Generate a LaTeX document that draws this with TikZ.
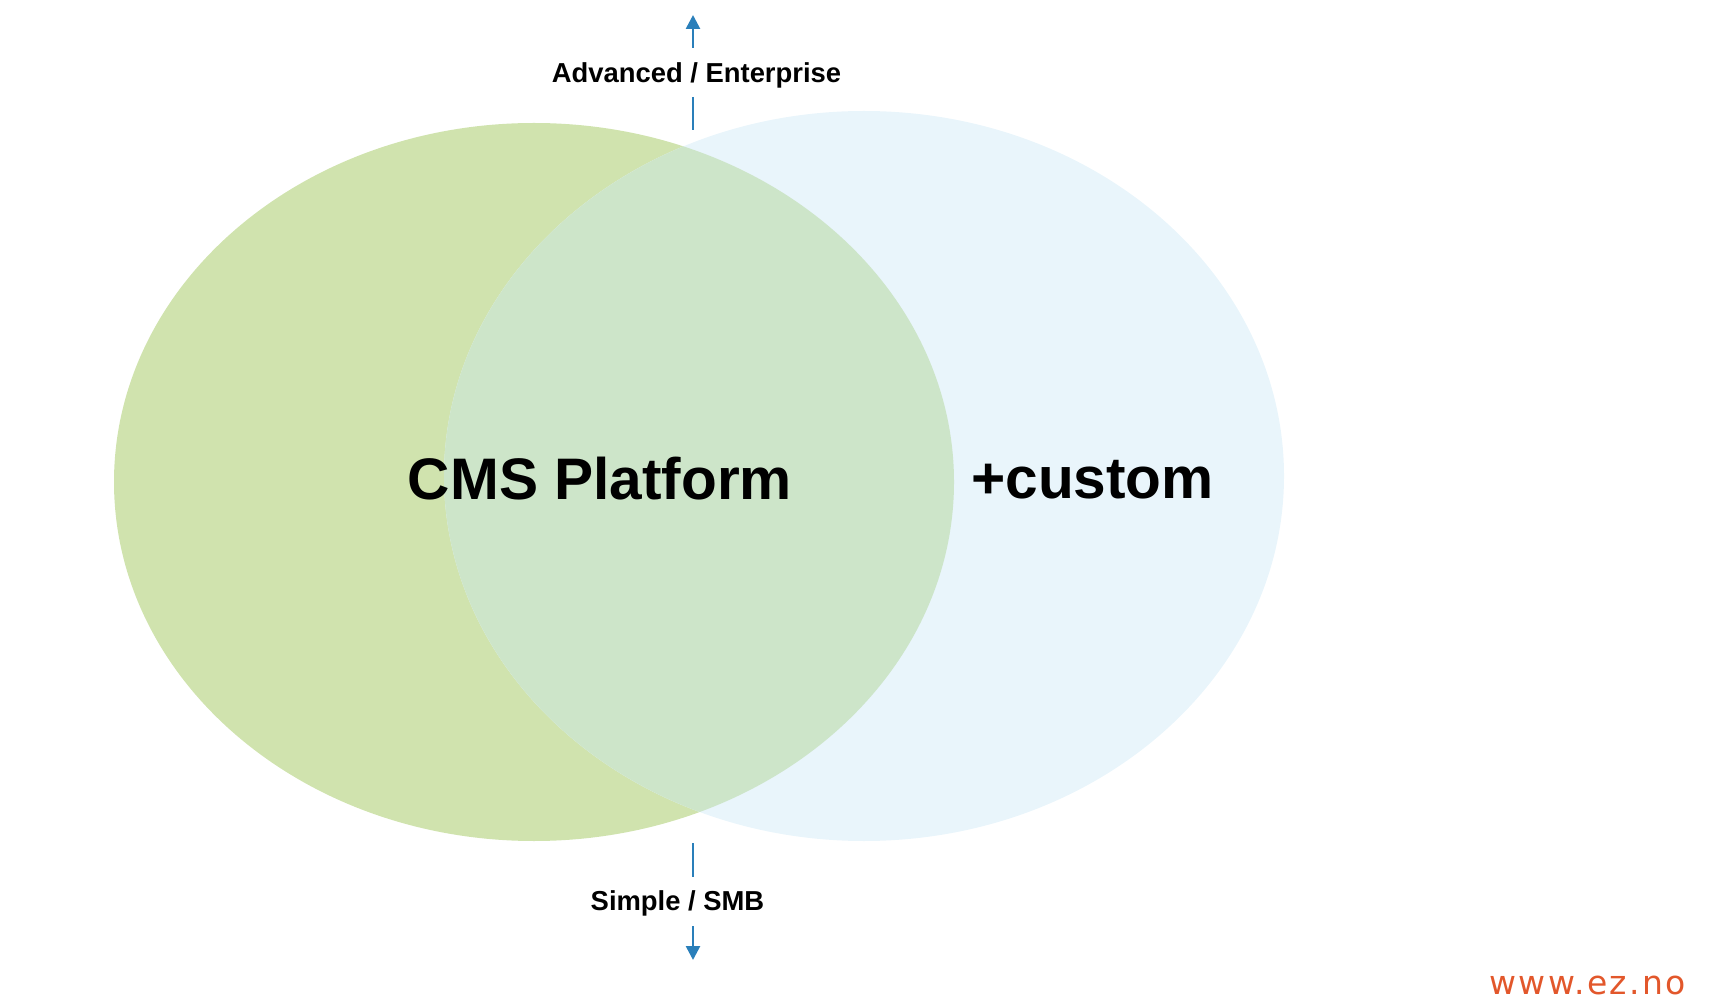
\documentclass[tikz,border=0pt]{standalone}
\usepackage{fontspec}
\setmainfont{Liberation Sans}
\newfontfamily\ezfont[LetterSpace=7]{DejaVu Sans}
\usetikzlibrary{arrows.meta}
\definecolor{greenfill}{HTML}{D0E3AE}
\definecolor{bluefill}{HTML}{E9F5FB}
\definecolor{overlapfill}{HTML}{CDE5C9}
\definecolor{arrowblue}{HTML}{2A7FBA}
\definecolor{ezorange}{HTML}{E2572B}
\tikzset{
  bigtext/.style={font=\fontsize{29.3pt}{32pt}\selectfont\bfseries, inner sep=0pt, anchor=base},
  axistext/.style={font=\fontsize{13.7pt}{16pt}\selectfont\bfseries, inner sep=0pt, anchor=base},
  axisline/.style={draw=arrowblue, line width=1.3pt},
  axisarrow/.style={axisline, -{Triangle[width=7pt,length=7pt]}},
}
\begin{document}
\begin{tikzpicture}[x=0.5pt,y=-0.5pt]
\useasboundingbox (0,0) rectangle (1716,1004);
% circles
\fill[greenfill] (534,482) ellipse [x radius=420, y radius=359];
\fill[bluefill] (864,476) ellipse [x radius=420, y radius=365];
\begin{scope}
  \clip (534,482) ellipse [x radius=420, y radius=359];
  \fill[overlapfill] (864,476) ellipse [x radius=420, y radius=365];
\end{scope}
% texts
\node[bigtext] (cms) at (600,500) {CMS Platform};
\node[bigtext] (custom) at (1092.5,499) {+custom};
\node[axistext] (adv) at (696.5,83) {Advanced / Enterprise};
\node[axistext] (smb) at (677.5,910) {Simple / SMB};
\node[font=\ezfont\fontsize{16.5pt}{18pt}\selectfont, text=ezorange, inner sep=0pt, anchor=base] (ez) at (1587.5,994) {www.ez.no};
% axis connectors
\coordinate (uptip) at (693,15);
\coordinate (upfoot) at (693,48);
\coordinate (advlow) at (693,97);
\coordinate (advend) at (693,130);
\coordinate (smbtop) at (693,843);
\coordinate (smbmid) at (693,877);
\coordinate (dnstart) at (693,926);
\coordinate (dntip) at (693,960);
\draw[axisarrow] (upfoot) -- (uptip);
\draw[axisline] (advlow) -- (advend);
\draw[axisline] (smbtop) -- (smbmid);
\draw[axisarrow] (dnstart) -- (dntip);
\end{tikzpicture}
\end{document}
